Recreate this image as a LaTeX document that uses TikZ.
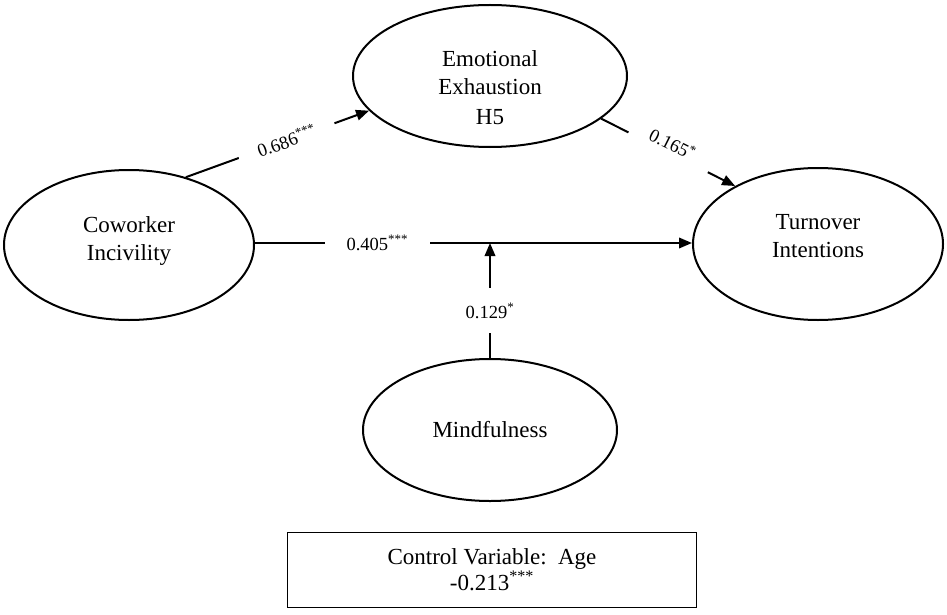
\documentclass[tikz,border=0pt]{standalone}
\usepackage{fontspec}
\setmainfont{Liberation Serif}
\usetikzlibrary{shapes.geometric,arrows.meta}
\begin{document}
\begin{tikzpicture}[x=1pt,y=-1pt,
 latent/.style={ellipse,draw,line width=2pt,inner sep=0pt,align=center,font=\fontsize{23}{28}\selectfont},
 conn/.style={line width=2pt},
 arr/.style={conn,-{Triangle[length=13pt,width=10.5pt]}},
 lbl/.style={fill=white,font=\fontsize{18.5}{20}\selectfont,inner ysep=2pt}]
\useasboundingbox[fill=white] (0,0) rectangle (947,615);
\node[latent,minimum width=250pt,minimum height=150pt] (CI) at (129,245) {Coworker\\Incivility\rule[-12pt]{0pt}{0pt}};
\node[latent,minimum width=274pt,minimum height=142pt] (EE) at (490,76) {\rule{0pt}{40pt}Emotional\\Exhaustion\\[2pt]H5};
\node[latent,minimum width=250pt,minimum height=152pt] (TI) at (818,244) {Turnover\\Intentions\rule[-17pt]{0pt}{0pt}};
\node[latent,minimum width=254pt,minimum height=142pt] (MF) at (490,430) {Mindfulness};
\node[draw,line width=1.5pt,minimum width=409pt,minimum height=75pt,align=center,
 font=\fontsize{23}{26}\selectfont] (box) at (492,570) {Control Variable:\ \ Age\\-0.213\textsuperscript{***}};
\coordinate (mid) at (490,243);
\draw[arr] (CI.50) -- node[lbl,sloped,pos=0.55,inner xsep=20pt]{0.686\textsuperscript{***}} (EE.196);
\draw[arr] (EE.-21) -- node[lbl,sloped,pos=0.5,inner xsep=20pt]{0.165\textsuperscript{*}\rule[-20pt]{0pt}{0pt}} (TI.145);
\draw[arr] (CI.east |- mid) -- node[lbl,pos=0.28,inner xsep=22pt]{0.405\textsuperscript{***}} (TI.west |- mid);
\draw[arr] (MF.north) -- node[lbl,pos=0.41,inner ysep=15pt]{0.129\textsuperscript{*}} (mid);
\end{tikzpicture}
\end{document}
